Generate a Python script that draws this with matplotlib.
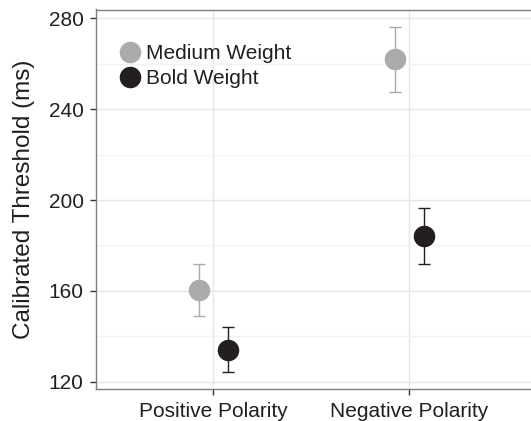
import numpy as np
import matplotlib
matplotlib.use("Agg")
import matplotlib.pyplot as plt
from matplotlib.ticker import MultipleLocator

plt.rcParams['font.family'] = ['Liberation Sans', 'DejaVu Sans']

# data
categories = ['Positive Polarity', 'Negative Polarity']
medium_mean = [160.4, 261.9]
medium_err = [11.3, 14.3]
bold_mean = [134.1, 184.3]
bold_err = [9.9, 12.4]
series_names = ['Medium Weight', 'Bold Weight']

gray = '#ABABAB'
dark = '#231F20'
text_col = '#231F20'

fig = plt.figure(figsize=(5.31, 4.21), dpi=100)
ax = fig.add_axes([96 / 531, 32 / 421, 435 / 531, 379.5 / 421])

x = np.arange(1, len(categories) + 1)
dodge = 0.075

ax.errorbar(x - dodge, medium_mean, yerr=medium_err, fmt='o', color=gray,
            ms=14.5, elinewidth=1.0, capsize=4, capthick=1.0, zorder=3,
            label=series_names[0])
ax.errorbar(x + dodge, bold_mean, yerr=bold_err, fmt='o', color=dark,
            ms=14.5, elinewidth=1.0, capsize=4, capthick=1.0, zorder=3,
            label=series_names[1])

ax.set_xlim(0.4015, 2.621)
ax.set_ylim(116.8, 283.9)
ax.set_xticks(x)
ax.set_xticklabels(categories)
ax.yaxis.set_major_locator(MultipleLocator(40))
ax.yaxis.set_minor_locator(MultipleLocator(20))

ax.grid(which='major', color='#E6E6E6', lw=1.0, zorder=0)
ax.grid(which='minor', axis='y', color='#F3F3F3', lw=1.0, zorder=0)
ax.set_axisbelow(True)

for s in ['left', 'top', 'bottom']:
    ax.spines[s].set_color('#7F7F7F')
    ax.spines[s].set_linewidth(1.0)
ax.spines['right'].set_visible(False)

ax.tick_params(axis='both', which='major', length=4.5, width=1.0,
               color='#333333', labelsize=15, labelcolor=text_col)
ax.tick_params(axis='y', which='major', pad=4.5)
ax.tick_params(axis='x', which='major', pad=5)
ax.tick_params(axis='y', which='minor', length=0)

ax.set_ylabel('Calibrated Threshold (ms)', fontsize=17.5, color=text_col,
              labelpad=10)

handles, labels = ax.get_legend_handles_labels()
handles = [h[0] for h in handles]
leg = ax.legend(handles, labels, loc='upper left', bbox_to_anchor=(0.033, 0.931),
                frameon=False, fontsize=15, handletextpad=0.2,
                labelspacing=0.3, markerscale=1.0, handlelength=1.1,
                borderaxespad=0)
for t in leg.get_texts():
    t.set_color(text_col)

fig.savefig('out.png', dpi=100)
